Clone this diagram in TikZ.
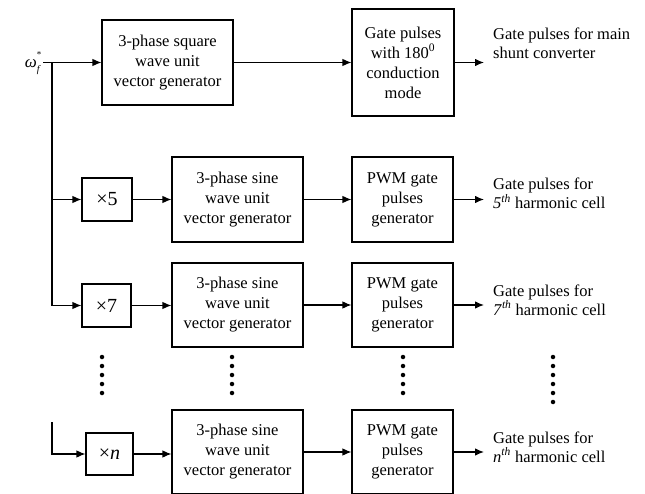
\documentclass[tikz,border=0pt]{standalone}
\usepackage{fontspec}
\setmainfont{Liberation Serif}
\usetikzlibrary{arrows.meta}
\begin{document}
\begin{tikzpicture}[x=1pt,y=-1pt,
  blk/.style={draw, line width=1.1pt, inner sep=0pt, align=center, font=\fontsize{16.5}{20}\selectfont},
  mul/.style={blk, font=\fontsize{20}{22}\selectfont},
  arr/.style={-{Latex[length=9pt,width=7.5pt]}, line width=1.1pt},
  ln/.style={line width=1.1pt},
  lbl/.style={anchor=west, align=left, inner sep=0pt, font=\fontsize{16.5}{19}\selectfont},
  dotc/.style={fill, circle, inner sep=0pt, minimum size=4.5pt}]
\useasboundingbox (0,0) rectangle (645,494);
% blocks
\node[blk, minimum width=131pt, minimum height=85pt] (sq) at (167.5,62.5) {3-phase square\\wave unit\\vector generator};
\node[blk, minimum width=102pt, minimum height=107pt] (gate) at (403,62.5) {Gate pulses\\with 180\textsuperscript{0}\\conduction\\mode};
\node[mul, minimum width=50pt, minimum height=43pt] (m5) at (107,199.5) {×5};
\node[mul, minimum width=49pt, minimum height=43pt] (m7) at (106.5,305.5) {×7};
\node[mul, minimum width=47pt, minimum height=42pt] (mn) at (109.5,454) {×\textit{n}};
\node[blk, minimum width=131pt, minimum height=85pt] (s1) at (237.5,199.5) {3-phase sine\\wave unit\\vector generator};
\node[blk, minimum width=131pt, minimum height=84pt] (s2) at (237.5,305) {3-phase sine\\wave unit\\vector generator};
\node[blk, minimum width=131pt, minimum height=84pt] (s3) at (237.5,452) {3-phase sine\\wave unit\\vector generator};
\node[blk, minimum width=101pt, minimum height=85pt] (p1) at (402.5,199.5) {PWM gate\\pulses\\generator};
\node[blk, minimum width=101pt, minimum height=84pt] (p2) at (402.5,305) {PWM gate\\pulses\\generator};
\node[blk, minimum width=101pt, minimum height=84pt] (p3) at (402.5,452) {PWM gate\\pulses\\generator};
% input label
\node[inner sep=0pt, anchor=east, font=\fontsize{17}{19}\selectfont] (w) at (41,63) {\textit{ω}\makebox[0pt][l]{\raisebox{1.25ex}{\fontsize{9}{9}\selectfont *}}\raisebox{-0.7ex}{\fontsize{10}{10}\selectfont\textit{f}}};
% output labels
\node[lbl] (o1) at (493,43) {Gate pulses for main\\shunt converter};
\node[lbl] (o5) at (493,193.5) {Gate pulses for\\\textit{5}\textsuperscript{\textit{th}} harmonic cell};
\node[lbl] (o7) at (493,300) {Gate pulses for\\\textit{7}\textsuperscript{\textit{th}} harmonic cell};
\node[lbl] (on) at (493,447) {Gate pulses for\\\textit{n}\textsuperscript{\textit{th}} harmonic cell};
% coordinates
\coordinate (in) at (43,62.5);
\coordinate (j0) at (52,62.5);
\coordinate (j7) at (52,305.5);
\coordinate (jn) at (52,422);
\coordinate (e1) at (484,62.5);
\coordinate (e5) at (484,199.5);
\coordinate (e7) at (484,305);
\coordinate (en) at (484,452);
% connectors
\draw[arr] (in) -- (sq.west);
\draw[arr] (sq.east) -- (gate.west);
\draw[arr] (gate.east) -- (e1);
\draw[ln] (j0) -- (j7);
\draw[arr] (m5.west -| j0) -- (m5.west);
\draw[arr] (j7) -- (m7.west);
\draw[arr] (jn) |- (mn.west);
\draw[arr] (m5.east) -- (m5.east -| s1.west);
\draw[arr] (m7.east) -- (m7.east -| s2.west);
\draw[arr] (mn.east) -- (mn.east -| s3.west);
\draw[arr] (s1.east) -- (p1.west);
\draw[arr] (s2.east) -- (p2.west);
\draw[arr] (s3.east) -- (p3.west);
\draw[arr] (p1.east) -- (e5);
\draw[arr] (p2.east) -- (e7);
\draw[arr] (p3.east) -- (en);
% dots
\foreach \i in {0,...,4} {
  \node[dotc] (da\i) at (102,357+9*\i) {};
  \node[dotc] (db\i) at (232,357+9*\i) {};
  \node[dotc] (dc\i) at (403,357+9*\i) {};
}
\foreach \i in {0,...,5} {
  \node[dotc] (dd\i) at (553,357+9*\i) {};
}
\end{tikzpicture}
\end{document}
